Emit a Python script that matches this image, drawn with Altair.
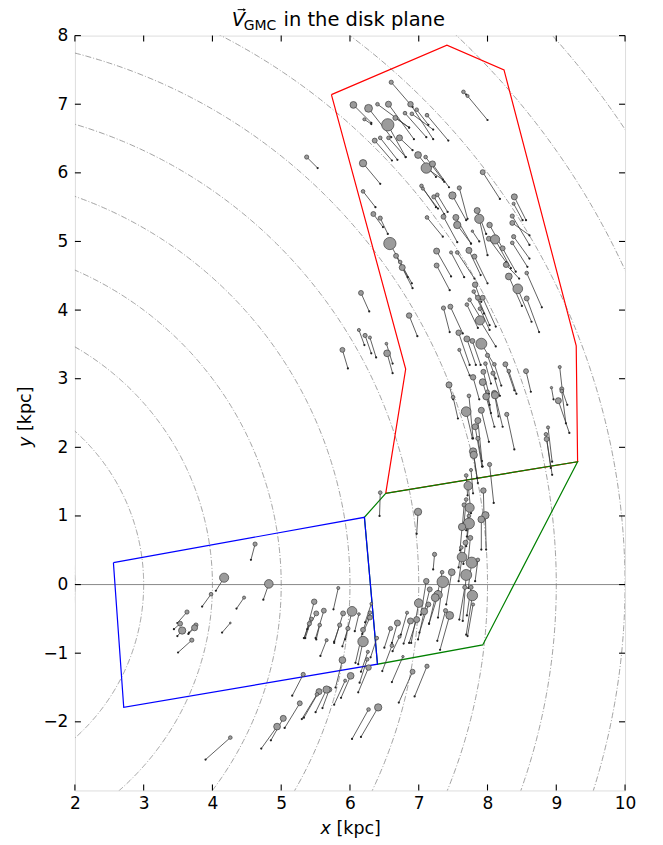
import numpy as np
import pandas as pd
import altair as alt

# ---------------- data ----------------
# GMC positions (kpc), tips of the velocity vectors (kpc) and marker radius (relative size)
gmc_x = [6.60, 7.65, 7.71, 6.05, 6.27, 6.40, 6.56, 6.88, 6.97, 6.80, 6.90, 7.12, 6.21, 6.55, 6.66,
         6.36, 6.44, 6.56, 6.72, 6.19, 6.99, 7.10, 7.11, 7.20, 7.93, 6.19, 7.04, 7.06, 7.59, 7.49,
         7.22, 7.27, 8.39, 8.38, 7.85, 6.34, 6.44, 7.12, 7.54, 7.36, 7.88, 8.36,
         7.56, 8.03, 8.36, 7.78, 6.58, 6.67, 6.73, 6.76, 8.02, 8.11, 8.38, 8.36, 7.26, 7.47, 7.56,
         7.73, 7.81, 8.22, 7.26, 8.27, 8.31, 8.44, 8.57, 8.57, 6.16, 6.86, 7.82, 7.80, 7.86, 7.93,
         7.70, 7.74, 7.36, 7.46, 7.89, 7.89, 6.13, 6.22, 6.29, 6.53, 6.54, 5.89, 7.58, 7.70, 7.78,
         7.91, 7.59, 8.00, 8.26, 8.56, 8.10, 7.97, 7.94, 8.08, 8.31, 7.79, 7.93, 7.44, 9.05, 9.08,
         8.93, 8.10, 8.00,
         7.50, 7.73, 7.98, 8.11, 7.69, 7.91, 8.28, 7.86, 7.82, 7.86, 7.79, 7.80, 8.03, 7.76, 7.69,
         7.72, 7.94, 9.03, 9.08, 8.88, 8.85, 8.86, 6.44, 6.99, 7.69, 7.66, 7.74, 7.73, 7.97, 7.91,
         7.73, 7.63, 7.75, 7.68, 7.62, 7.23, 7.63, 7.77, 7.86,
         7.69, 7.48, 7.34, 7.35, 7.11, 7.16, 7.28, 7.24, 7.67, 7.76, 7.78, 7.79, 7.00, 7.14, 7.08,
         7.39, 7.45, 6.88, 6.97, 6.83, 6.69, 6.59, 6.72, 6.61, 6.77, 6.03, 5.90, 5.83, 5.85, 5.97,
         6.13, 6.29, 6.31, 6.29, 6.19, 6.19, 6.39, 6.26, 6.25, 6.27, 5.89, 6.01, 5.93, 5.70, 6.91,
         7.12, 6.41, 6.27,
         4.62, 4.17, 4.82, 3.98, 4.46, 3.63, 3.53, 3.56, 3.76, 3.74, 3.70, 4.26, 5.48, 5.51, 5.62,
         5.44, 5.41, 5.56, 5.66, 5.32, 5.66, 5.55, 5.52, 5.27, 5.03, 4.94, 4.26, 5.37]
gmc_y = [7.32, 7.18, 7.12, 6.99, 6.94, 7.00, 7.00, 7.00, 6.92, 6.87, 6.86, 6.84, 6.78, 6.70, 6.80,
         6.47, 6.51, 6.51, 6.51, 6.14, 6.26, 6.23, 6.07, 6.13, 6.01, 5.73, 5.81, 5.77, 5.78, 5.67,
         5.65, 5.68, 5.65, 5.55, 5.45, 5.40, 5.34, 5.35, 5.35, 5.36, 5.33, 5.37,
         5.24, 5.24, 5.27, 5.15, 4.97, 4.79, 4.70, 4.62, 5.04, 5.03, 5.07, 4.98, 4.86, 4.84, 4.84,
         4.87, 4.78, 4.90, 4.65, 4.66, 4.49, 4.31, 4.54, 4.17, 4.25, 3.92, 4.37, 4.27, 4.18, 4.18,
         4.08, 4.15, 4.03, 4.05, 4.02, 3.85, 3.71, 3.63, 3.60, 3.51, 3.37, 3.42, 3.67, 3.58, 3.55,
         3.51, 3.42, 3.34, 3.21, 3.11, 3.21, 3.22, 3.10, 3.08, 3.11, 3.02, 2.95, 2.91, 3.17, 2.85,
         2.87, 2.79, 2.81,
         2.73, 2.75, 2.74, 2.76, 2.52, 2.54, 2.48, 2.39, 2.30, 2.13, 1.94, 1.89, 1.75, 1.67, 1.59,
         1.44, 1.37, 2.68, 2.82, 2.29, 2.19, 2.12, 1.34, 1.06, 1.24, 1.16, 1.12, 1.00, 1.01, 0.95,
         0.89, 0.84, 0.68, 0.61, 0.54, 0.44, 0.40, 0.32, 0.36,
         0.14, 0.18, 0.18, 0.04, 0.05, -0.07, -0.15, -0.19, -0.04, -0.04, -0.16, -0.29, -0.27, -0.29, -0.39,
         -0.38, -0.45, -0.53, -0.51, -0.41, -0.56, -0.64, -0.76, -0.89, -1.05, -0.39, -0.42, -0.05, -0.59, -0.64,
         -0.43, -0.41, -0.28, -0.48, -0.66, -0.83, -0.78, -0.98, -1.09, -1.21, -1.10, -1.33, -1.40, -1.53, -1.27,
         -1.19, -1.79, -1.82,
         0.59, 0.10, 0.01, -0.14, -0.19, -0.40, -0.57, -0.67, -0.59, -0.63, -0.81, -0.56, -0.25, -0.42, -0.38,
         -0.50, -0.57, -0.59, -0.81, -1.31, -1.53, -1.56, -1.60, -1.73, -1.95, -2.07, -2.23, 6.23]
gmc_x_end = [6.91, 7.69, 8.00, 6.31, 6.60, 6.86, 6.93, 7.21, 7.14, 7.11, 7.21, 7.43, 6.31, 6.81, 6.86,
             6.61, 6.69, 6.81, 6.91, 6.44, 7.25, 7.37, 7.35, 7.44, 8.18, 6.37, 7.25, 7.28, 7.71, 7.69,
             7.37, 7.42, 8.56, 8.51, 7.98, 6.48, 6.55, 7.35, 7.76, 7.56, 8.00, 8.61,
             7.76, 8.22, 8.61, 7.88, 6.73, 6.84, 6.90, 6.91, 8.27, 8.34, 8.61, 8.58, 7.47, 7.66, 7.81,
             7.90, 8.00, 8.41, 7.45, 8.46, 8.50, 8.64, 8.79, 8.75, 6.28, 6.98, 7.91, 7.95, 8.03, 8.12,
             7.86, 7.92, 7.45, 7.64, 8.03, 8.12, 6.21, 6.31, 6.38, 6.62, 6.62, 5.97, 7.74, 7.83, 7.90,
             8.10, 7.74, 8.12, 8.39, 8.63, 8.20, 8.05, 8.02, 8.18, 8.42, 7.88, 8.03, 7.50, 9.09, 9.16,
             8.96, 8.16, 8.05,
             7.57, 7.79, 8.10, 8.22, 7.78, 8.02, 8.39, 7.92, 7.92, 7.93, 7.86, 7.85, 8.09, 7.79, 7.71,
             7.76, 7.95, 9.19, 9.14, 8.94, 8.92, 8.94, 6.43, 6.97, 7.66, 7.63, 7.69, 7.70, 7.98, 7.91,
             7.69, 7.60, 7.72, 7.65, 7.58, 7.21, 7.58, 7.72, 7.82,
             7.64, 7.40, 7.28, 7.28, 7.03, 7.08, 7.15, 7.15, 7.59, 7.70, 7.69, 7.71, 6.89, 7.01, 6.99,
             7.27, 7.31, 6.78, 6.86, 6.74, 6.61, 6.50, 6.62, 6.47, 6.61, 5.93, 5.77, 5.76, 5.77, 5.89,
             6.07, 6.19, 6.22, 6.18, 6.08, 6.12, 6.30, 6.16, 6.14, 6.12, 5.79, 5.87, 5.77, 5.60, 6.71,
             6.94, 6.16, 6.03,
             4.56, 4.05, 4.74, 3.85, 4.35, 3.49, 3.44, 3.49, 3.66, 3.65, 3.50, 4.14, 5.34, 5.38, 5.50,
             5.35, 5.33, 5.51, 5.57, 5.16, 5.50, 5.33, 5.30, 5.05, 4.85, 4.71, 3.90, 5.53]
gmc_y_end = [6.96, 7.14, 6.77, 6.73, 6.52, 6.66, 6.49, 6.49, 6.70, 6.52, 6.63, 6.47, 6.71, 6.23, 6.66,
             6.18, 6.19, 6.23, 6.33, 5.84, 5.94, 5.87, 5.90, 5.79, 5.62, 5.50, 5.50, 5.48, 5.33, 5.31,
             5.40, 5.43, 5.31, 5.31, 5.11, 5.21, 5.11, 5.07, 4.97, 4.99, 4.80, 4.95,
             4.97, 4.90, 5.09, 5.00, 4.70, 4.48, 4.39, 4.32, 4.70, 4.61, 4.75, 4.63, 4.49, 4.48, 4.46,
             4.51, 4.39, 4.56, 4.29, 4.46, 4.06, 3.83, 4.04, 3.68, 3.98, 3.62, 4.12, 3.95, 3.78, 3.76,
             3.74, 3.85, 3.68, 3.66, 3.71, 3.47, 3.49, 3.37, 3.31, 3.22, 3.08, 3.15, 3.20, 3.20, 3.20,
             3.20, 3.05, 3.00, 2.83, 2.81, 2.90, 2.93, 2.78, 2.75, 2.78, 2.70, 2.62, 2.70, 2.81, 2.62,
             2.70, 2.45, 2.50,
             2.42, 2.13, 2.30, 2.30, 2.13, 2.08, 1.97, 1.80, 1.72, 1.72, 1.48, 1.55, 1.19, 1.33, 1.30,
             1.04, 0.96, 2.21, 2.35, 1.79, 1.70, 1.60, 1.00, 0.74, 0.90, 0.80, 0.79, 0.70, 0.51, 0.51,
             0.56, 0.50, 0.35, 0.30, 0.25, 0.22, 0.05, -0.05, 0.05,
             -0.53, -0.29, -0.10, -0.48, -0.44, -0.40, -0.57, -0.57, -0.51, -0.45, -0.73, -0.75, -0.85, -0.70, -0.80,
             -0.82, -0.95, -0.86, -0.85, -0.73, -0.85, -0.92, -0.97, -1.26, -1.42, -0.80, -0.85, -0.36, -0.83, -0.90,
             -0.68, -0.66, -0.55, -0.72, -1.14, -1.16, -1.06, -1.27, -1.43, -1.57, -1.50, -1.65, -1.75, -1.80, -1.72,
             -1.63, -2.22, -2.25,
             0.36, -0.09, -0.22, -0.32, -0.35, -0.56, -0.65, -0.75, -0.70, -0.72, -0.99, -0.70, -0.78, -0.65, -0.78,
             -0.78, -0.78, -0.80, -1.04, -1.62, -1.86, -1.94, -1.96, -2.09, -2.27, -2.39, -2.55, 6.07]
gmc_r = [2.3, 2.0, 1.7, 3.7, 4.3, 2.0, 3.3, 3.0, 2.0, 2.0, 2.0, 2.0, 1.7, 6.7, 2.7,
         2.7, 2.0, 2.0, 3.3, 4.0, 3.7, 2.0, 5.7, 3.3, 2.7, 2.0, 2.0, 1.7, 2.3, 4.0,
         2.3, 2.0, 3.3, 1.7, 3.3, 2.7, 2.3, 2.0, 3.3, 2.7, 5.0, 2.3,
         4.0, 3.0, 2.7, 1.3, 6.7, 2.7, 2.0, 3.3, 2.7, 5.0, 2.3, 2.0, 3.3, 1.7, 2.0,
         3.3, 2.7, 2.7, 2.7, 3.0, 3.7, 5.3, 2.0, 2.7, 2.7, 3.0, 3.0, 2.0, 2.7, 2.7,
         2.0, 2.0, 2.3, 2.7, 2.0, 5.0, 1.7, 2.3, 1.7, 1.5, 3.7, 2.7, 3.0, 3.3, 2.7,
         6.0, 1.7, 2.3, 2.7, 2.7, 2.0, 2.0, 2.7, 2.3, 2.0, 3.0, 3.7, 3.3, 1.7, 2.3,
         1.3, 3.0, 2.0,
         2.0, 2.0, 3.7, 4.0, 5.3, 3.3, 2.3, 3.3, 3.3, 2.3, 4.0, 4.0, 2.3, 1.7, 2.0,
         4.7, 3.0, 3.3, 2.0, 1.7, 2.0, 2.7, 2.0, 4.0, 2.0, 2.3, 5.0, 2.0, 4.0, 3.7,
         6.0, 4.0, 2.7, 2.7, 2.0, 2.3, 5.3, 6.0, 2.0,
         6.0, 3.7, 2.0, 6.3, 3.0, 2.7, 4.7, 4.3, 2.3, 2.3, 5.7, 1.7, 4.7, 2.7, 3.7,
         2.3, 4.3, 3.3, 3.3, 1.7, 3.3, 2.3, 1.7, 2.0, 1.3, 5.3, 2.7, 1.7, 2.3, 2.3,
         1.5, 2.0, 1.5, 2.7, 2.7, 5.7, 2.0, 1.7, 2.0, 3.0, 3.7, 3.7, 1.7, 2.7, 2.7,
         2.3, 4.0, 2.0,
         2.3, 5.0, 4.7, 2.0, 1.7, 2.3, 2.7, 4.0, 2.3, 3.3, 2.3, 1.0, 3.0, 2.7, 2.7,
         2.0, 2.3, 2.0, 1.7, 2.3, 4.0, 3.3, 2.0, 2.7, 3.3, 3.7, 2.0, 2.3]

# spiral-arm region outlines (kpc)
red_x = [5.73, 7.41, 8.24, 9.29, 9.31, 6.52, 6.81, 5.73]
red_y = [7.14, 7.86, 7.50, 3.48, 1.79, 1.33, 3.14, 7.14]
green_x = [6.52, 9.31, 7.93, 6.40, 6.21, 6.52]
green_y = [1.33, 1.79, -0.88, -1.16, 0.98, 1.33]
blue_x = [2.56, 6.21, 6.40, 2.71, 2.56]
blue_y = [0.32, 0.98, -1.16, -1.79, 0.32]

# Galactocentric reference circles (radius, kpc)
circle_radii = [2, 3, 4, 5, 6, 7, 8, 9, 10, 11, 12, 13]

x_ticks = [2, 3, 4, 5, 6, 7, 8, 9, 10]
y_ticks = [-2, -1, 0, 1, 2, 3, 4, 5, 6, 7, 8]

# ---------------- build tables ----------------
n = len(gmc_x)
gmc = pd.DataFrame({"x": gmc_x[:n], "y": gmc_y[:n], "xe": gmc_x_end[:n],
                    "ye": gmc_y_end[:n], "r": gmc_r[:n]})

rows = []
theta = np.linspace(-np.pi / 2, np.pi / 2, 721)
for rad in circle_radii:
    for i, t in enumerate(theta):
        rows.append({"r": rad, "i": i, "x": rad * np.cos(t), "y": rad * np.sin(t)})
arcs = pd.DataFrame(rows)


def poly_df(xs_, ys_):
    return pd.DataFrame({"x": xs_, "y": ys_, "i": list(range(len(xs_)))})


W, H = 551, 756
FONT = "DejaVu Sans"
xs = alt.Scale(domain=[2, 10], nice=False, zero=False)
ys = alt.Scale(domain=[-3, 8], nice=False, zero=False)

x_axis = alt.Axis(values=x_ticks, title=None, ticks=False, tickSize=0, domain=False, grid=False,
                  labelFont=FONT, labelFontSize=17, labelPadding=5, labelColor="black",
                  labelFlush=False, labelOverlap=False, format="d")
y_axis = alt.Axis(values=y_ticks, title=None, ticks=False, tickSize=0, domain=False, grid=False,
                  labelFont=FONT, labelFontSize=17, labelPadding=7, labelColor="black",
                  labelFlush=False, labelOverlap=False, format="d")


def X(field):
    return alt.X(field, scale=xs, axis=x_axis, title=None)


def Y(field):
    return alt.Y(field, scale=ys, axis=y_axis, title=None)


arc_layer = alt.Chart(arcs).mark_line(
    clip=True, color="#8a8a8a", strokeWidth=0.8, strokeDash=[6, 2, 1, 2]
).encode(x=X("x:Q"), y=Y("y:Q"), detail="r:N", order="i:Q")

zero_line = alt.Chart(pd.DataFrame({"y": [0]})).mark_rule(
    color="#7a7a7a", strokeWidth=0.9
).encode(y=Y("y:Q"))


def poly_layer(xs_, ys_, color):
    return alt.Chart(poly_df(xs_, ys_)).mark_line(color=color, strokeWidth=1.2).encode(
        x=X("x:Q"), y=Y("y:Q"), order="i:Q")


red_layer = poly_layer(red_x, red_y, "#ff0000")
green_layer = poly_layer(green_x, green_y, "#008000")
blue_layer = poly_layer(blue_x, blue_y, "#0000ff")

vec_layer = alt.Chart(gmc).mark_rule(color="#3a3a3a", strokeWidth=0.8).encode(
    x=X("x:Q"), y=Y("y:Q"), x2="xe:Q", y2="ye:Q")
tip_layer = alt.Chart(gmc).mark_circle(color="#222222", size=5, opacity=1).encode(
    x=X("xe:Q"), y=Y("ye:Q"))
dot_layer = alt.Chart(gmc).mark_point(
    shape="circle", filled=True, fill="#9b9b9b", stroke="#3c3c3c", strokeWidth=0.7,
    fillOpacity=1, strokeOpacity=1, opacity=1
).encode(
    x=X("x:Q"), y=Y("y:Q"),
    size=alt.Size("r:Q", scale=alt.Scale(type="pow", exponent=2, domain=[0, 7], range=[0, 165]),
                  legend=None),
)

# inward ticks on all four sides
xt = pd.DataFrame({"v": x_ticks})
yt = pd.DataFrame({"v": y_ticks})
TL = 6
tick_b = alt.Chart(xt).mark_rule(color="black", strokeWidth=1.1).encode(
    x=X("v:Q"), y=alt.value(H), y2=alt.value(H - TL))
tick_t = alt.Chart(xt).mark_rule(color="black", strokeWidth=1.1).encode(
    x=X("v:Q"), y=alt.value(0), y2=alt.value(TL))
tick_l = alt.Chart(yt).mark_rule(color="black", strokeWidth=1.1).encode(
    y=Y("v:Q"), x=alt.value(0), x2=alt.value(TL))
tick_r = alt.Chart(yt).mark_rule(color="black", strokeWidth=1.1).encode(
    y=Y("v:Q"), x=alt.value(W), x2=alt.value(W - TL))

one = pd.DataFrame({"a": [0]})


def label(txt, x, y, size, style="normal", angle=0, baseline="alphabetic", align="left"):
    return alt.Chart(one).mark_text(
        text=txt, font=FONT, fontSize=size, fontStyle=style, angle=angle,
        baseline=baseline, align=align, color="black"
    ).encode(x=alt.value(x), y=alt.value(y))


# small vector arrow drawn above the italic V of the title
arrow_shaft = alt.Chart(one).mark_rule(color="black", strokeWidth=1.0).encode(
    x=alt.value(163), x2=alt.value(170), y=alt.value(-26), y2=alt.value(-26))
arrow_head = alt.Chart(one).mark_point(
    shape="triangle-right", filled=True, color="black", size=9, opacity=1
).encode(x=alt.value(170), y=alt.value(-26))

texts = [
    label("V", 157, -10, 19.5, style="italic"),
    label("GMC", 169, -6, 14),
    label("in the disk plane", 209, -10, 19.5),
    label("x", 246, 800, 17.5, style="italic"),
    label("[kpc]", 262, 800, 17.5),
    label("y", -44, 412, 17.5, style="italic", angle=270),
    label("[kpc]", -44, 396, 17.5, angle=270),
]

chart = alt.layer(
    arc_layer, zero_line, red_layer, green_layer, blue_layer,
    vec_layer, tip_layer, dot_layer,
    tick_b, tick_t, tick_l, tick_r, arrow_shaft, arrow_head, *texts
).properties(
    width=W, height=H,
    padding={"left": 67, "top": 27, "right": 30, "bottom": 50},
    autosize=alt.AutoSizeParams(type="none"),
).configure_view(
    stroke="black", strokeWidth=1.3
).configure(background="white")

chart.save("out.html", embed_options={"renderer": "svg", "actions": False})
